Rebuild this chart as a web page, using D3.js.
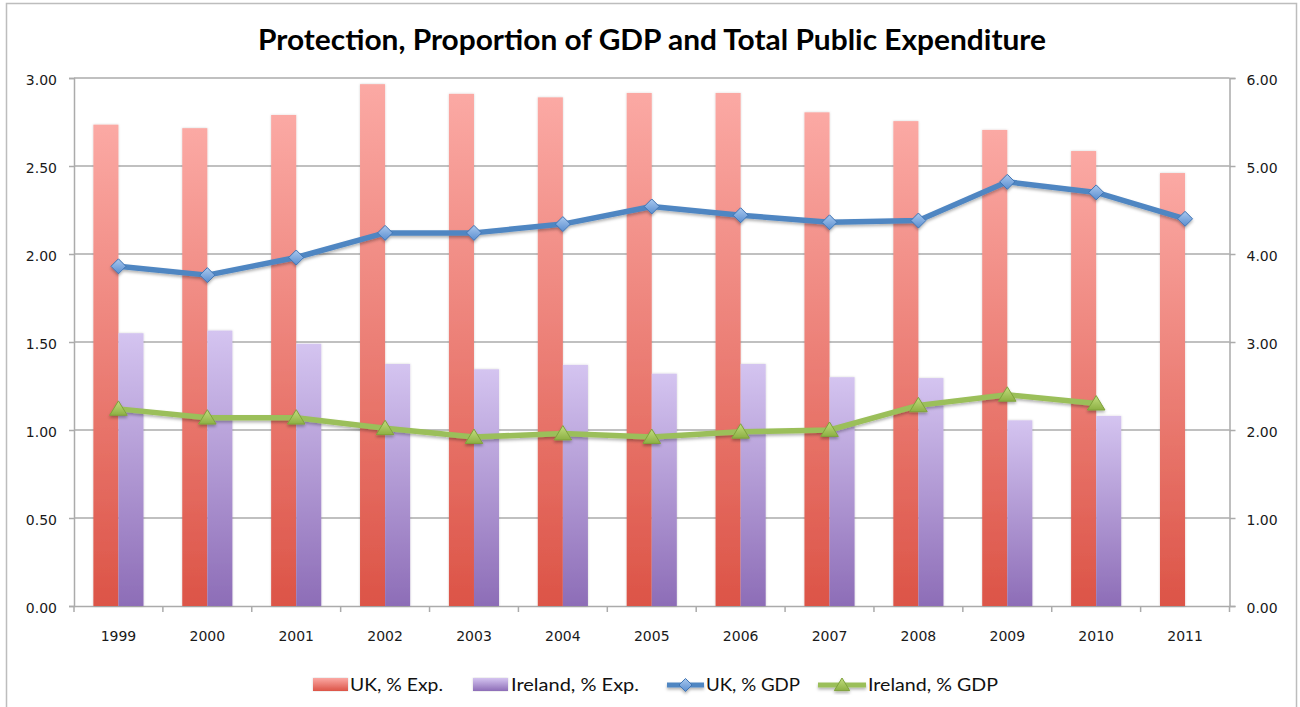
<!DOCTYPE html>
<html>
<head>
<meta charset="utf-8">
<script src="https://cdn.jsdelivr.net/npm/d3@7/dist/d3.min.js"></script>
<style>
  html, body { margin: 0; padding: 0; background: #fff; }
  svg { display: block; }
</style>
</head>
<body>
<svg id="chart" width="1300" height="707"></svg>
<script>
// Protection spending, UK and Ireland, 1999–2011
const years = ["1999","2000","2001","2002","2003","2004","2005","2006","2007","2008","2009","2010","2011"];
// share of total public expenditure (%), right axis
const ukExp = [5.47, 5.43, 5.58, 5.93, 5.82, 5.78, 5.83, 5.83, 5.61, 5.51, 5.41, 5.17, 4.92];
const ieExp = [3.10, 3.13, 2.98, 2.75, 2.69, 2.74, 2.64, 2.75, 2.60, 2.59, 2.11, 2.16, null];
// share of GDP (%), left axis
const ukGdp = [1.93, 1.88, 1.98, 2.12, 2.12, 2.17, 2.27, 2.22, 2.18, 2.19, 2.41, 2.35, 2.20];
const ieGdp = [1.12, 1.07, 1.07, 1.01, 0.96, 0.98, 0.96, 0.99, 1.00, 1.14, 1.20, 1.15, null];
const leftTicks = [0, 0.5, 1, 1.5, 2, 2.5, 3];
const rightTicks = [0, 1, 2, 3, 4, 5, 6];
const seriesNames = ["UK, % Exp.", "Ireland, % Exp.", "UK, % GDP", "Ireland, % GDP"];

const svg = d3.select("#chart");
const plot = { left: 74, right: 1229.5, top: 78, bottom: 606 };
const gridColor = "#ababab";
const axisFont = "'DejaVu Sans', sans-serif";

// outer chart frame
svg.append("rect")
  .attr("x", 6.5).attr("y", 3.5)
  .attr("width", 1290).attr("height", 740)
  .attr("fill", "#fff").attr("stroke", "#bdbdbd").attr("stroke-width", 1.5);

const defs = svg.append("defs");
function vGrad(id, top, bottom) {
  const g = defs.append("linearGradient").attr("id", id)
    .attr("x1", 0).attr("y1", 0).attr("x2", 0).attr("y2", 1);
  g.append("stop").attr("offset", "0%").attr("stop-color", top);
  g.append("stop").attr("offset", "100%").attr("stop-color", bottom);
}
vGrad("gUk", "#fba9a4", "#dc5447");
vGrad("gIe", "#d4c4f0", "#8d6db7");
vGrad("gDiamond", "#a9c8ee", "#5a8ed0");
vGrad("gTri", "#c2dd7e", "#8cb043");

const shadow = defs.append("filter").attr("id", "shadow")
  .attr("x", "-10%").attr("y", "-30%").attr("width", "120%").attr("height", "160%");
shadow.append("feDropShadow").attr("dx", 0).attr("dy", 2).attr("stdDeviation", 1.5)
  .attr("flood-color", "#000").attr("flood-opacity", 0.3);
const barShadow = defs.append("filter").attr("id", "barShadow")
  .attr("x", "-20%").attr("y", "-5%").attr("width", "140%").attr("height", "110%");
barShadow.append("feDropShadow").attr("dx", 0).attr("dy", 0).attr("stdDeviation", 0.8)
  .attr("flood-color", "#000").attr("flood-opacity", 0.18);

// scales
const x0 = d3.scaleBand().domain(years).range([plot.left, plot.right]).padding(0);
const barW = x0.bandwidth() * 0.282;
const x1 = d3.scaleBand().domain(["uk", "ie"])
  .range([x0.bandwidth() / 2 - barW, x0.bandwidth() / 2 + barW]).padding(0);
const yL = d3.scaleLinear().domain([0, 3]).range([plot.bottom, plot.top]);
const yR = d3.scaleLinear().domain([0, 6]).range([plot.bottom, plot.top]);
const cx = d => x0(d) + x0.bandwidth() / 2;

// horizontal gridlines
svg.append("g").selectAll("line").data(leftTicks.filter(t => t > 0)).join("line")
  .attr("x1", plot.left).attr("x2", plot.right)
  .attr("y1", d => yL(d)).attr("y2", d => yL(d))
  .attr("stroke", gridColor).attr("stroke-width", 1.5);

// left axis
const axL = svg.append("g").attr("transform", `translate(${plot.left},0)`)
  .call(d3.axisLeft(yL).tickValues(leftTicks).tickFormat(d3.format(".2f")).tickSize(5).tickPadding(12));
// right axis
const axR = svg.append("g").attr("transform", `translate(${plot.right},0)`)
  .call(d3.axisRight(yR).tickValues(rightTicks).tickFormat(d3.format(".2f")).tickSize(6).tickPadding(11));
// bottom axis with ticks on category boundaries
const axB = svg.append("g").attr("transform", `translate(0,${plot.bottom})`)
  .call(d3.axisBottom(x0).tickSize(0).tickPadding(25));
axB.selectAll(".boundary").data(years.concat(["end"])).join("line")
  .attr("class", "boundary")
  .attr("x1", (d, i) => plot.left + i * x0.step())
  .attr("x2", (d, i) => plot.left + i * x0.step())
  .attr("y1", 0).attr("y2", 6)
  .attr("stroke", gridColor).attr("stroke-width", 1.5);

[axL, axR, axB].forEach(ax => {
  ax.attr("font-family", axisFont).attr("font-size", 14);
  ax.select(".domain").attr("stroke", gridColor).attr("stroke-width", 1.5);
  ax.selectAll(".tick line").attr("stroke", gridColor).attr("stroke-width", 1.5);
  ax.selectAll("text").attr("font-family", axisFont).attr("font-size", 14).attr("fill", "#1a1a1a");
});
axL.selectAll(".tick text").attr("dy", "0.45em");
axR.selectAll(".tick text").attr("dy", "0.45em");

// bars
const barG = svg.append("g").attr("filter", "url(#barShadow)");
barG.selectAll("rect.uk").data(years.map((y, i) => ({ y, v: ukExp[i] }))).join("rect")
  .attr("class", "uk")
  .attr("x", d => x0(d.y) + x1("uk")).attr("width", x1.bandwidth())
  .attr("y", d => yR(d.v)).attr("height", d => yR(0) - yR(d.v))
  .attr("fill", "url(#gUk)");
barG.selectAll("rect.ie").data(years.map((y, i) => ({ y, v: ieExp[i] })).filter(d => d.v != null)).join("rect")
  .attr("class", "ie")
  .attr("x", d => x0(d.y) + x1("ie")).attr("width", x1.bandwidth())
  .attr("y", d => yR(d.v)).attr("height", d => yR(0) - yR(d.v))
  .attr("fill", "url(#gIe)");

// lines with markers
const diamond = s => `M0,${-s}L${s},0L0,${s}L${-s},0Z`;
const triangle = s => `M0,${-s}L${s * 1.1},${s * 0.8}L${-s * 1.1},${s * 0.8}Z`;

function drawLine(values, color, markerPath, fillId, strokeMarker) {
  const pts = years.map((y, i) => ({ y, v: values[i] })).filter(d => d.v != null);
  const g = svg.append("g").attr("filter", "url(#shadow)");
  g.append("path").datum(pts)
    .attr("d", d3.line().x(d => cx(d.y)).y(d => yL(d.v)))
    .attr("fill", "none").attr("stroke", color).attr("stroke-width", 5.5)
    .attr("stroke-linejoin", "round");
  g.selectAll("path.m").data(pts).join("path").attr("class", "m")
    .attr("transform", d => `translate(${cx(d.y)},${yL(d.v)})`)
    .attr("d", markerPath)
    .attr("fill", `url(#${fillId})`).attr("stroke", strokeMarker).attr("stroke-width", 1);
}
drawLine(ukGdp, "#4f86c2", diamond(7.5), "gDiamond", "#3f74b4");
drawLine(ieGdp, "#9bbf5a", triangle(8), "gTri", "#7fa23c");

// title
svg.append("text")
  .attr("x", 652).attr("y", 50)
  .attr("text-anchor", "middle")
  .attr("font-family", "Lato, 'Open Sans', sans-serif")
  .attr("font-weight", 700).attr("font-size", 29)
  .attr("textLength", 788).attr("lengthAdjust", "spacingAndGlyphs")
  .attr("fill", "#000")
  .text("Protection, Proportion of GDP and Total Public Expenditure");

// legend
const legendItems = [
  { name: seriesNames[0], type: "bar", fill: "url(#gUk)", x: 313, tx: 350, tw: 93 },
  { name: seriesNames[1], type: "bar", fill: "url(#gIe)", x: 473, tx: 511, tw: 128 },
  { name: seriesNames[2], type: "line", color: "#4f86c2", marker: diamond(6.5), fill: "url(#gDiamond)", ms: "#3f74b4", x: 667, tx: 706, tw: 94 },
  { name: seriesNames[3], type: "line", color: "#9bbf5a", marker: triangle(7), fill: "url(#gTri)", ms: "#7fa23c", x: 818, tx: 868, tw: 130 }
];
const legY = 685;
const leg = svg.append("g");
legendItems.forEach(it => {
  if (it.type === "bar") {
    leg.append("rect").attr("x", it.x).attr("y", legY - 7).attr("width", 35).attr("height", 13)
      .attr("fill", it.fill).attr("filter", "url(#barShadow)");
  } else {
    const w = it.tx - it.x - 2;
    const g = leg.append("g").attr("filter", "url(#shadow)");
    g.append("line").attr("x1", it.x).attr("x2", it.x + w).attr("y1", legY).attr("y2", legY)
      .attr("stroke", it.color).attr("stroke-width", 5);
    g.append("path").attr("transform", `translate(${it.x + w / 2},${legY})`)
      .attr("d", it.marker).attr("fill", it.fill).attr("stroke", it.ms).attr("stroke-width", 1);
  }
  leg.append("text").attr("x", it.tx).attr("y", legY + 6)
    .attr("font-family", "Lato, 'Open Sans', sans-serif").attr("font-size", 17)
    .attr("textLength", it.tw).attr("lengthAdjust", "spacingAndGlyphs")
    .attr("fill", "#111").text(it.name);
});
</script>
</body>
</html>
